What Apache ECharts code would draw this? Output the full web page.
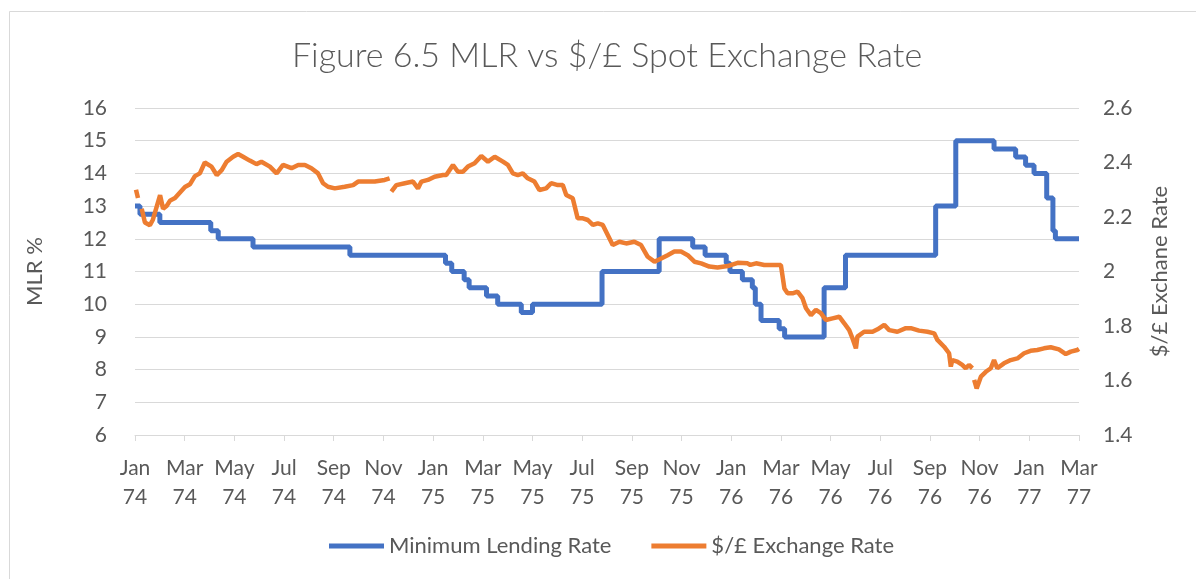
<!DOCTYPE html>
<html>
<head>
<meta charset="utf-8">
<script src="https://cdn.jsdelivr.net/npm/echarts@6/dist/echarts.min.js"></script>
<style>
  html, body { margin: 0; padding: 0; background: #fff; }
  #chart { width: 1196px; height: 579px; }
</style>
</head>
<body>
<div id="chart"></div>
<script>
// x axis is months since Jan 74, labels every 2 months
var tickLabels = ['Jan\n74', 'Mar\n74', 'May\n74', 'Jul\n74', 'Sep\n74', 'Nov\n74',
    'Jan\n75', 'Mar\n75', 'May\n75', 'Jul\n75', 'Sep\n75', 'Nov\n75',
    'Jan\n76', 'Mar\n76', 'May\n76', 'Jul\n76', 'Sep\n76', 'Nov\n76',
    'Jan\n77', 'Mar\n77'];

// MLR: month when the rate changed, and the new rate
var mlrMonths = [0, 0.2, 1.0, 3.05, 3.35, 4.75, 8.65, 12.5, 12.75, 13.25, 13.45, 14.15, 14.6,
    15.55, 16.0, 18.8, 21.1, 22.45, 22.95, 23.8, 23.95, 24.45, 24.85, 24.97, 25.2, 25.93,
    26.15, 27.74, 28.6, 32.23, 33.04, 34.58, 35.45, 35.85, 36.19, 36.7, 36.95, 37.05, 38.0];
var mlrRates = [13, 12.75, 12.5, 12.25, 12, 11.75, 11.5, 11.25, 11, 10.75, 10.5, 10.25, 10,
    9.75, 10, 11, 12, 11.75, 11.5, 11.25, 11, 10.75, 10.5, 10, 9.5, 9.25,
    9, 10.5, 11.5, 13, 15, 14.75, 14.5, 14.25, 14, 13.25, 12.25, 12, 12];

// $/£ spot rate, '-' marks the small breaks in the series
var fxMonths = [0.04, 0.12, 0.2, 0.27, 0.40, 0.60, 0.72, 1.01, 1.13, 1.27, 1.41, 1.61, 1.81,
    2.01, 2.21, 2.41, 2.61, 2.81, 3.08, 3.29, 3.49, 3.69, 3.95, 4.15, 4.35, 4.62, 4.89,
    5.09, 5.43, 5.70, 5.96, 6.30, 6.57, 6.84, 7.10, 7.37, 7.57, 7.77, 8.04, 8.44, 8.78,
    8.98, 9.25, 9.65, 10.05, 10.25, 10.29, 10.32, 10.52, 10.86, 11.19, 11.39, 11.53, 11.79,
    12.06, 12.40, 12.53, 12.80, 13.00, 13.20, 13.40, 13.67, 13.94, 14.21, 14.48, 14.81,
    15.01, 15.21, 15.41, 15.61, 15.81, 16.08, 16.28, 16.55, 16.75, 17.02, 17.22, 17.36,
    17.62, 17.82, 18.03, 18.23, 18.43, 18.63, 18.83, 19.03, 19.23, 19.50, 19.77, 20.10,
    20.37, 20.64, 20.91, 21.18, 21.44, 21.71, 21.98, 22.25, 22.52, 22.79, 23.12, 23.45,
    23.86, 24.26, 24.66, 24.77, 25.0, 25.33, 25.67, 26.0, 26.07, 26.14, 26.27, 26.47,
    26.67, 26.87, 27.01, 27.21, 27.41, 27.61, 27.81, 28.08, 28.35, 28.55, 28.75, 28.88,
    29.02, 29.08, 29.35, 29.69, 29.89, 30.16, 30.36, 30.69, 31.03, 31.23, 31.56, 31.90,
    32.17, 32.30, 32.57, 32.77, 32.84, 32.90, 33.10, 33.30, 33.44, 33.57, 33.71, 33.75,
    33.78, 33.88, 34.05, 34.25, 34.45, 34.58, 34.71, 34.98, 35.25, 35.52, 35.79, 36.05,
    36.32, 36.59, 36.86, 37.19, 37.47, 37.67, 37.93, 38.0];
var fxRates = [2.30, 2.27, '-', 2.23, 2.18, 2.17, 2.19, 2.28, 2.23, 2.24, 2.26, 2.27, 2.29,
    2.31, 2.32, 2.35, 2.36, 2.40, 2.385, 2.354, 2.372, 2.403, 2.421, 2.431, 2.421, 2.407, 2.394,
    2.403, 2.385, 2.360, 2.391, 2.379, 2.391, 2.391, 2.379, 2.360, 2.324, 2.311, 2.305, 2.311, 2.317,
    2.330, 2.330, 2.330, 2.336, 2.342, '-', 2.293, 2.317, 2.324, 2.330, 2.305, 2.330, 2.336,
    2.348, 2.354, 2.354, 2.391, 2.366, 2.366, 2.385, 2.397, 2.424, 2.403, 2.421, 2.403,
    2.391, 2.360, 2.354, 2.360, 2.342, 2.330, 2.299, 2.305, 2.324, 2.317, 2.317, 2.281,
    2.269, 2.195, 2.195, 2.189, 2.171, 2.177, 2.171, 2.134, 2.097, 2.109, 2.103, 2.109,
    2.097, 2.054, 2.036, 2.048, 2.060, 2.073, 2.073, 2.060, 2.036, 2.030, 2.018, 2.015,
    2.020, 2.032, 2.030, 2.024, 2.030, 2.024, 2.024, 2.024, 1.981, 1.938, 1.920, 1.920,
    1.926, 1.902, 1.865, 1.840, 1.859, 1.847, 1.822, 1.828, 1.834, 1.810, 1.785, 1.755,
    1.718, 1.761, 1.779, 1.779, 1.788, 1.804, 1.785, 1.779, 1.792, 1.792, 1.783, 1.779,
    1.773, 1.749, 1.724, 1.700, 1.651, 1.675, 1.669, 1.657, 1.645, 1.657, 1.645, '-',
    1.602, 1.571, 1.614, 1.632, 1.645, 1.675, 1.645, 1.663, 1.675, 1.681, 1.700, 1.709,
    1.712, 1.718, 1.722, 1.714, 1.697, 1.706, 1.712, 1.716];

var mlrData = mlrMonths.map(function (m, i) { return [m, mlrRates[i]]; });
var fxData = fxMonths.map(function (m, i) { return [m, fxRates[i]]; });

var textColor = '#595959';
var fontName = 'Lato';

var chart = echarts.init(document.getElementById('chart'));
chart.setOption({
    animation: false,
    backgroundColor: '#fff',
    graphic: [{
        type: 'rect',
        shape: { x: 9.5, y: 11.5, width: 1200, height: 600 },
        style: { fill: 'none', stroke: '#d9d9d9', lineWidth: 1 }
    }],
    title: {
        text: 'Figure 6.5 MLR vs $/£ Spot Exchange Rate',
        left: 287,
        top: 34,
        textStyle: { color: textColor, fontSize: 34, fontWeight: 300, fontFamily: fontName }
    },
    legend: {
        bottom: 17,
        left: 324,
        icon: 'rect',
        itemWidth: 55,
        itemHeight: 5,
        itemGap: 40,
        textStyle: { color: textColor, fontSize: 22, fontFamily: fontName },
        data: ['Minimum Lending Rate', '$/£ Exchange Rate']
    },
    grid: { left: 135, right: 117, top: 108, bottom: 144 },
    xAxis: {
        type: 'value',
        min: 0,
        max: 38,
        interval: 2,
        axisLine: { lineStyle: { color: '#d9d9d9', width: 1 } },
        axisTick: { show: true, length: 6, lineStyle: { color: '#d9d9d9' } },
        splitLine: { show: false },
        axisLabel: {
            color: textColor, fontSize: 21, fontFamily: fontName, lineHeight: 29, margin: 19,
            formatter: function (v) { return tickLabels[Math.round(v / 2)] || ''; }
        }
    },
    yAxis: [{
        type: 'value',
        min: 6,
        max: 16,
        interval: 1,
        name: 'MLR %',
        nameLocation: 'middle',
        nameRotate: 90,
        nameGap: 89,
        nameTextStyle: { color: textColor, fontSize: 22, fontFamily: fontName },
        axisLine: { show: false },
        axisTick: { show: false },
        axisLabel: { color: textColor, fontSize: 21, fontFamily: fontName, margin: 28 },
        splitLine: { lineStyle: { color: '#d9d9d9', width: 1 } }
    }, {
        type: 'value',
        min: 1.4,
        max: 2.6,
        interval: 0.2,
        name: '$/£ Exchane Rate',
        nameLocation: 'middle',
        nameRotate: 90,
        nameGap: 70,
        nameTextStyle: { color: textColor, fontSize: 22, fontFamily: fontName },
        axisLine: { show: false },
        axisTick: { show: false },
        axisLabel: { color: textColor, fontSize: 21, fontFamily: fontName, margin: 24 },
        splitLine: { show: false }
    }],
    series: [{
        name: 'Minimum Lending Rate',
        type: 'line',
        step: 'end',
        yAxisIndex: 0,
        showSymbol: false,
        symbol: 'none',
        color: '#4472C4',
        lineStyle: { width: 5, color: '#4472C4' },
        data: mlrData
    }, {
        name: '$/£ Exchange Rate',
        type: 'line',
        yAxisIndex: 1,
        showSymbol: false,
        symbol: 'none',
        connectNulls: false,
        color: '#ED7D31',
        lineStyle: { width: 4.5, color: '#ED7D31' },
        data: fxData
    }]
});
</script>
</body>
</html>
